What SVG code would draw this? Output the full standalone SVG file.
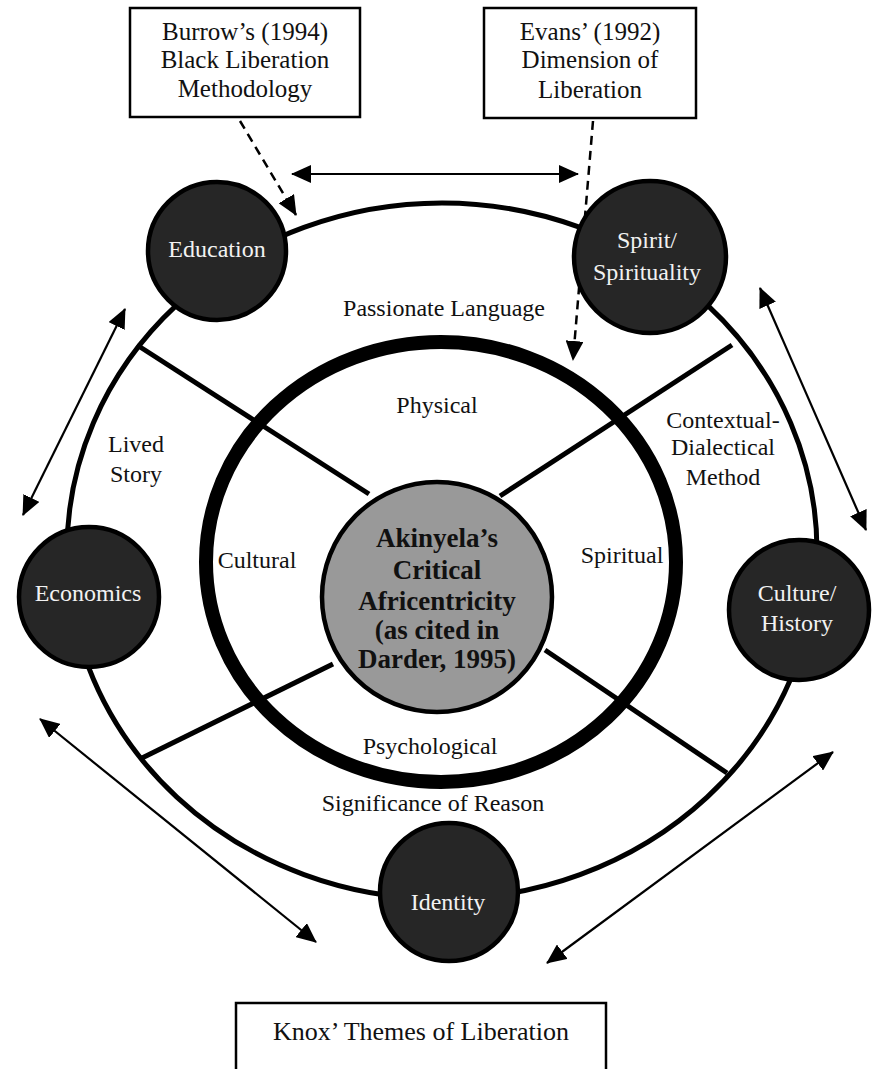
<svg xmlns="http://www.w3.org/2000/svg" width="872" height="1069" viewBox="0 0 872 1069">
<defs>
<style>
.t{font-family:"Liberation Serif","Times New Roman",serif;font-size:24px;fill:#111;text-anchor:middle}
.nt{font-family:"Liberation Serif","Times New Roman",serif;font-size:24px;fill:#f2f2f2;text-anchor:middle}
.bt{font-family:"Liberation Serif","Times New Roman",serif;font-size:27px;font-weight:bold;fill:#111;text-anchor:middle}
.bx{fill:#fff;stroke:#000;stroke-width:2.5}
.node{fill:#262626;stroke:#000;stroke-width:4.5}
.arr{fill:none;stroke:#000;stroke-width:2.2;marker-start:url(#ah);marker-end:url(#ah)}
.dash{fill:none;stroke:#000;stroke-width:2.5;stroke-dasharray:9 6;marker-end:url(#ah)}
.spoke{stroke:#000;stroke-width:5;fill:none}
</style>
<marker id="ah" markerUnits="userSpaceOnUse" markerWidth="20" markerHeight="18" viewBox="0 0 20 18" refX="19" refY="9" orient="auto-start-reverse">
<path d="M0,0 L20,9 L0,18 z" fill="#000"/>
</marker>
</defs>
<rect width="872" height="1069" fill="#fff"/>

<g id="outer-ring">
<ellipse cx="442" cy="551" rx="375" ry="348" fill="none" stroke="#000" stroke-width="5"/>
</g>
<g id="inner-ring">
<ellipse cx="441" cy="562" rx="235" ry="220" fill="none" stroke="#000" stroke-width="14"/>
</g>

<g id="connectors">
<line class="spoke" x1="137" y1="345" x2="369" y2="494"/>
<line class="spoke" x1="732" y1="345" x2="500" y2="496"/>
<line class="spoke" x1="142" y1="758" x2="333" y2="664"/>
<line class="spoke" x1="545" y1="650" x2="727" y2="773"/>
<line class="arr" x1="292" y1="174" x2="578" y2="174"/>
<line class="arr" x1="125" y1="309" x2="23" y2="515"/>
<line class="arr" x1="760" y1="288" x2="866" y2="530"/>
<line class="arr" x1="40" y1="719" x2="316" y2="942"/>
<line class="arr" x1="833" y1="752" x2="547" y2="963"/>
<line class="dash" x1="240" y1="121" x2="296" y2="215"/>
<line class="dash" x1="593" y1="121" x2="573" y2="360"/>
</g>

<g id="center">
<circle cx="437" cy="597" r="115" fill="#999" stroke="#000" stroke-width="4.5"/>
<text class="bt" x="437" y="547">Akinyela’s</text>
<text class="bt" x="437" y="579">Critical</text>
<text class="bt" x="437" y="610">Africentricity</text>
<text class="bt" x="437" y="639">(as cited in</text>
<text class="bt" x="437" y="668">Darder, 1995)</text>
</g>

<g id="education">
<circle class="node" cx="217" cy="251" r="69"/>
<text class="nt" x="217" y="257">Education</text>
</g>
<g id="spirit">
<circle class="node" cx="650" cy="257" r="76"/>
<text class="nt" x="647" y="248">Spirit/</text>
<text class="nt" x="647" y="280">Spirituality</text>
</g>
<g id="economics">
<circle class="node" cx="89" cy="597" r="70"/>
<text class="nt" x="88" y="601">Economics</text>
</g>
<g id="culture">
<circle class="node" cx="799" cy="610" r="70"/>
<text class="nt" x="797" y="601">Culture/</text>
<text class="nt" x="797" y="631">History</text>
</g>
<g id="identity">
<circle class="node" cx="449" cy="892" r="69"/>
<text class="nt" x="448" y="910">Identity</text>
</g>

<g id="labels">
<text class="t" x="444" y="316">Passionate Language</text>
<text class="t" x="437" y="413">Physical</text>
<text class="t" x="257" y="568">Cultural</text>
<text class="t" x="622" y="563">Spiritual</text>
<text class="t" x="430" y="754">Psychological</text>
<text class="t" x="433" y="811">Significance of Reason</text>
<text class="t" x="136" y="452">Lived</text>
<text class="t" x="136" y="482">Story</text>
<text class="t" x="723" y="428">Contextual-</text>
<text class="t" x="723" y="455">Dialectical</text>
<text class="t" x="723" y="485">Method</text>
</g>

<g id="burrow-box">
<rect class="bx" x="130" y="8" width="230" height="109"/>
<text class="t" x="245" y="40" style="font-size:25px">Burrow’s (1994)</text>
<text class="t" x="245" y="68" style="font-size:25px">Black Liberation</text>
<text class="t" x="245" y="97" style="font-size:25px">Methodology</text>
</g>
<g id="evans-box">
<rect class="bx" x="484" y="8" width="212" height="110"/>
<text class="t" x="590" y="40" style="font-size:25px">Evans’ (1992)</text>
<text class="t" x="590" y="68" style="font-size:25px">Dimension of</text>
<text class="t" x="590" y="98" style="font-size:25px">Liberation</text>
</g>
<g id="knox-box">
<rect class="bx" x="236" y="1003" width="370" height="90"/>
<text class="t" x="421" y="1040" style="font-size:26px">Knox’ Themes of Liberation</text>
</g>
</svg>
